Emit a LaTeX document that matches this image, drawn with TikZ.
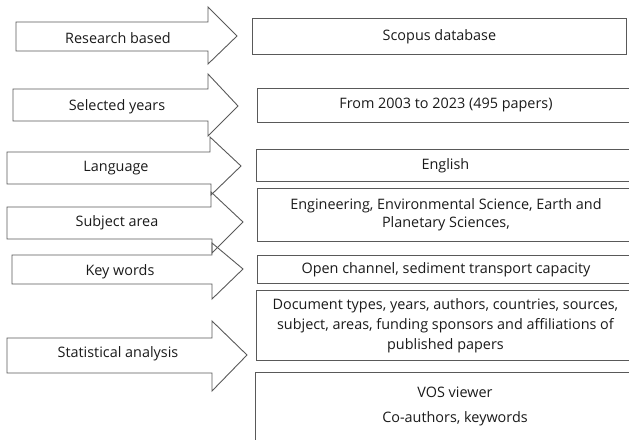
\documentclass[tikz,border=0pt]{standalone}
\usepackage{fontspec}
\setmainfont{Open Sans}
\definecolor{edge}{HTML}{595959}
\definecolor{ink}{HTML}{1A1A1A}
\tikzset{
  arrowshape/.style={draw=edge, line width=0.9pt, line join=miter},
  boxnode/.style={draw=edge, line width=0.9pt, anchor=north west, inner sep=0pt, align=center, text=ink},
  lbl/.style={text=ink, inner sep=0pt},
}
\begin{document}
\begin{tikzpicture}[x=1pt,y=-1pt,font=\fontsize{14.4}{19}\selectfont]
\useasboundingbox (0,0) rectangle (629,439);
\clip (0,0) rectangle (629,439);
% arrows
\draw[arrowshape] (16,22) -- (208,22) -- (208,7) -- (237,36) -- (208,64) -- (208,51) -- (16,51) -- cycle;
\draw[arrowshape] (13,89) -- (208,89) -- (208,74) -- (238,106) -- (208,136) -- (208,121) -- (13,121) -- cycle;
\draw[arrowshape] (7,152) -- (210,152) -- (210,137) -- (241,166) -- (211,195) -- (211,184) -- (7,184) -- cycle;
\draw[arrowshape] (7,207) -- (211,207) -- (211,192) -- (243,222) -- (212,253) -- (212,239) -- (7,239) -- cycle;
\draw[arrowshape] (12,255) -- (212,255) -- (212,243) -- (243,269) -- (212,299) -- (212,284) -- (12,284) -- cycle;
\draw[arrowshape] (7,338) -- (212,338) -- (212,321) -- (247,355) -- (212,391) -- (212,373) -- (7,373) -- cycle;
% arrow labels
\node[lbl] (l1) at (118,38) {Research based};
\node[lbl] (l2) at (117,107) {Selected years};
\node[lbl] (l3) at (116,168) {Language};
\node[lbl] (l4) at (117,223) {Subject area};
\node[lbl] (l5) at (120,272) {Key words};
\node[lbl] (l6) at (118,354) {Statistical analysis};
% boxes
\node[boxnode, minimum width=374pt, minimum height=36pt] (b1) at (252,18) {Scopus database};
\node[boxnode, minimum width=377pt, minimum height=34pt] (b2) at (257,88) {From 2003 to 2023 (495 papers)};
\node[boxnode, minimum width=378pt, minimum height=32pt] (b3) at (256,149) {English};
\node[boxnode, minimum width=377pt, minimum height=53pt] (b4) at (257,188) {Engineering, Environmental Science, Earth and\\[-1pt]Planetary Sciences,};
\node[boxnode, minimum width=377pt, minimum height=28pt] (b5) at (257,255) {Open channel, sediment transport capacity};
\node[boxnode, minimum width=378pt, minimum height=70pt] (b6) at (256,290) {Document types, years, authors, countries, sources,\\[1pt]subject, areas, funding sponsors and affiliations of\\[1pt]published papers};
\node[boxnode, minimum width=379pt, minimum height=68pt] (b7) at (255,372) {};
\node[lbl, align=center] (t7) at (455,406) {VOS viewer\\[6pt]Co-authors, keywords};
\end{tikzpicture}
\end{document}
